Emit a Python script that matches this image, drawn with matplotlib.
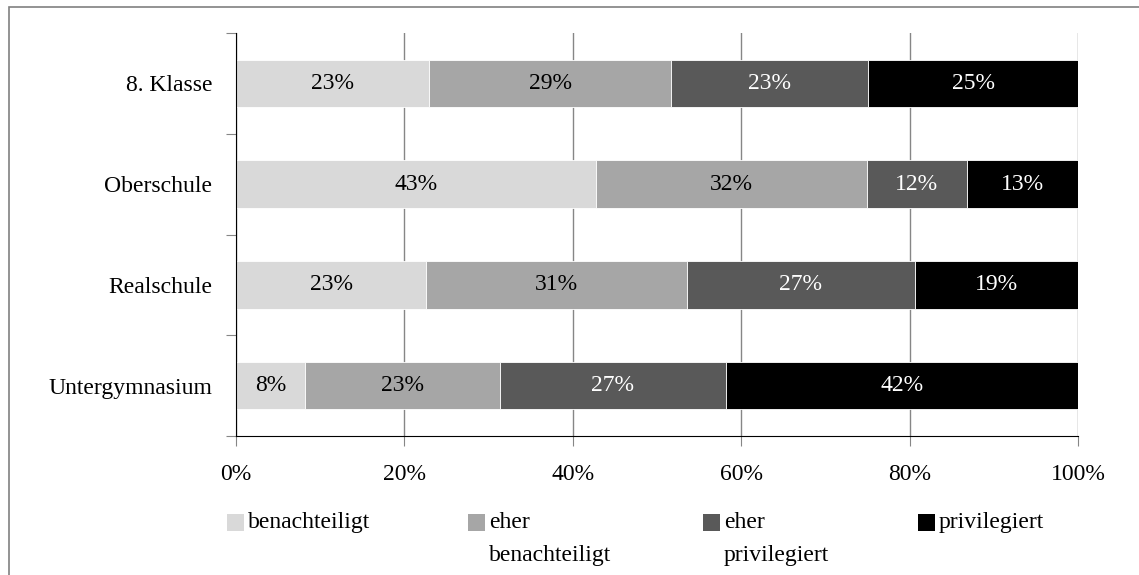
import matplotlib
matplotlib.use("Agg")
import matplotlib.pyplot as plt
from matplotlib.patches import Rectangle
import numpy as np

# data (shares in %)
categories = ["8. Klasse", "Oberschule", "Realschule", "Untergymnasium"]
series = ["benachteiligt", "eher\nbenachteiligt", "eher\nprivilegiert", "privilegiert"]
benachteiligt = [22.9, 42.8, 22.6, 8.2]
eher_benachteiligt = [28.8, 32.1, 31.0, 23.1]
eher_privilegiert = [23.4, 11.9, 27.0, 26.9]
privilegiert = [24.9, 13.2, 19.4, 41.8]
x_ticks = [0, 20, 40, 60, 80, 100]

colors = ["#d9d9d9", "#a6a6a6", "#595959", "#000000"]
text_colors = ["black", "black", "white", "white"]

plt.rcParams["font.family"] = ["Liberation Serif", "DejaVu Serif"]
FS = 17

fig = plt.figure(figsize=(11.39, 5.75), dpi=100)
ax = fig.add_axes([236 / 1139, 1 - 436 / 575, (1078 - 236) / 1139, (436 - 33) / 575])

values = [benachteiligt, eher_benachteiligt, eher_privilegiert, privilegiert]
y = np.arange(len(categories))
left = np.zeros(len(categories))
for vals, col, tcol in zip(values, colors, text_colors):
    vals = np.array(vals)
    ax.barh(y, vals, left=left, height=0.47, color=col, edgecolor="white",
            linewidth=0.6, zorder=3)
    for yi, l, v in zip(y, left, vals):
        ax.text(l + v / 2, yi, f"{round(v)}%", ha="center", va="center",
                color=tcol, fontsize=FS, zorder=4)
    left += vals

ax.set_xlim(0, 100)
ax.set_ylim(len(categories) - 0.5, -0.5)

ax.set_xticks(x_ticks)
ax.set_xticklabels([f"{t}%" for t in x_ticks], fontsize=FS)
ax.tick_params(axis="x", direction="out", length=7, color="#868686", pad=13)
ax.xaxis.grid(True, color="#868686", linewidth=1, zorder=0)

ax.set_yticks(np.arange(len(categories) + 1) - 0.5)
ax.set_yticklabels([])
ax.set_yticks(y, minor=True)
ax.set_yticklabels(categories, minor=True, fontsize=FS)
ax.tick_params(axis="y", which="major", direction="out", length=7, color="#868686")
ax.tick_params(axis="y", which="minor", length=0, pad=17)

for side in ["top", "right"]:
    ax.spines[side].set_visible(False)
ax.spines["left"].set_color("black")
ax.spines["bottom"].set_color("black")
ax.spines["left"].set_zorder(5)
ax.spines["bottom"].set_zorder(5)

# legend drawn by hand so the swatch sits next to the first text line
legend_x = [227, 468, 703, 918]
for lx, name, col in zip(legend_x, series, colors):
    fig.patches.append(Rectangle((lx / 1139, 1 - 531 / 575), 17 / 1139, 17 / 575,
                                 transform=fig.transFigure, facecolor=col,
                                 edgecolor="none"))
    fig.text((lx + 21) / 1139, 1 - 512 / 575, name, ha="left", va="top",
             fontsize=FS, linespacing=1.78)

# outer chart frame
fig.patches.append(Rectangle((9 / 1139, -0.05), 1.1, 1 - 7 / 575 + 0.05,
                             transform=fig.transFigure, facecolor="none",
                             edgecolor="#808080", linewidth=1.2))

fig.savefig("out.png", dpi=100)
